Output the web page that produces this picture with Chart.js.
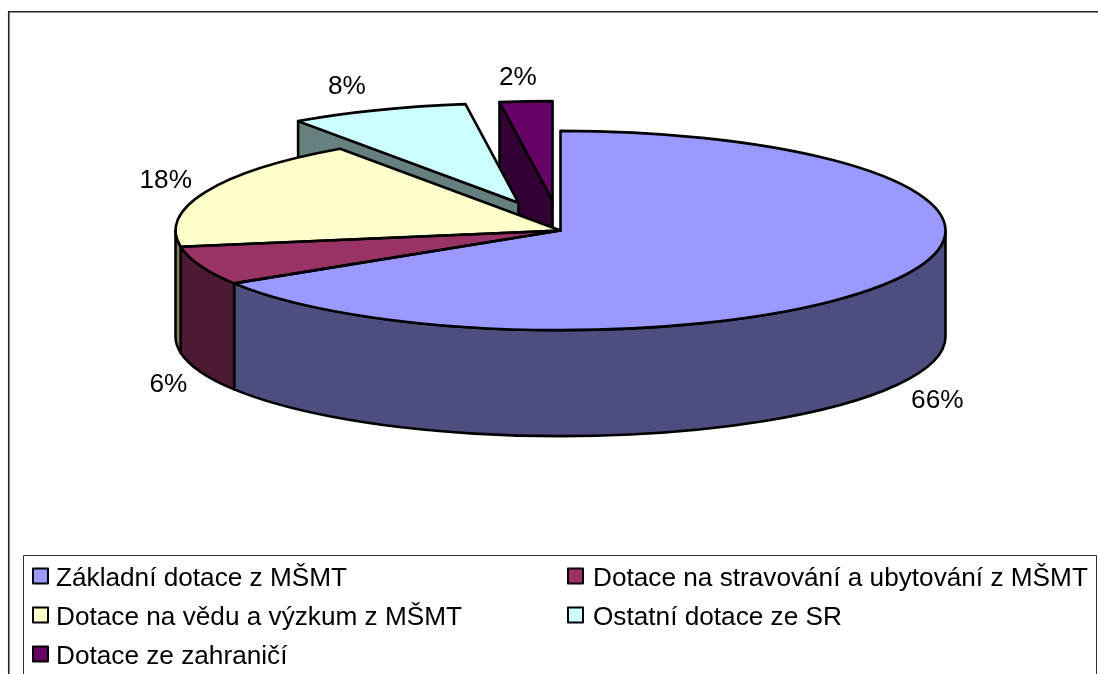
<!DOCTYPE html>
<html>
<head>
<meta charset="utf-8">
<style>html,body{margin:0;padding:0;background:#fff;overflow:hidden}canvas{display:block}</style>
<script src="https://cdn.jsdelivr.net/npm/chart.js@4"></script>
</head>
<body>
<canvas id="c" width="1098" height="674"></canvas>
<script>
const categories = ['Základní dotace z MŠMT','Dotace na stravování a ubytování z MŠMT','Dotace na vědu a výzkum z MŠMT','Ostatní dotace ze SR','Dotace ze zahraničí'];
const shares = [66.1, 6.3, 17.9, 7.5, 2.2];
const explode = [0, 0, 0, 115, 115];
const topColors = ['#9999FF','#993366','#FFFFCC','#CCFFFF','#660066'];
const wallColors = ['#4D4D80','#4D1A33','#808066','#668080','#330033'];
const labelNudge = [[40,16],[-32,13],[-40,-11],[-31,-23],[-8,-24]];

const TILT = 0.2588, DEPTH = 106, FONT = '26.2px "Liberation Sans", Arial, sans-serif', EDGE = 2.6;
const TAU = Math.PI * 2;

function sy(cy, y) { return cy + (y - cy) * TILT; }

function ellipsePath(ctx, a, cy, dy, from, to, ccw) {
  ctx.ellipse(a.x, sy(cy, a.y) + dy, a.outerRadius, a.outerRadius * TILT, 0, from, to, ccw);
}

function norm(t) { t = t % TAU; return t < 0 ? t + TAU : t; }

const pie3d = {
  id: 'pie3d',
  afterDatasetsUpdate(chart) {
    chart.getDatasetMeta(0).data.forEach((a, i) => {
      const mid = (a.startAngle + a.endAngle) / 2;
      a.x += Math.cos(mid) * explode[i];
      a.y += Math.sin(mid) * explode[i];
    });
  },
  beforeDraw(chart) {
    const ctx = chart.ctx, W = chart.width;
    ctx.save();
    ctx.fillStyle = '#fff';
    ctx.fillRect(0, 0, W, chart.height);
    ctx.strokeStyle = '#222';
    ctx.lineWidth = 1.6;
    ctx.beginPath();
    ctx.moveTo(W, 11.75); ctx.lineTo(8.75, 11.75); ctx.lineTo(8.75, chart.height);
    ctx.stroke();
    ctx.restore();
  },
  beforeDatasetsDraw(chart) {
    const ctx = chart.ctx, arcs = chart.getDatasetMeta(0).data;
    const cy = (chart.chartArea.top + chart.chartArea.bottom) / 2;
    ctx.save();
    ctx.lineWidth = EDGE;
    ctx.lineJoin = 'round';
    ctx.strokeStyle = '#000';
    // back radial walls of the pulled-out slices
    for (let i = arcs.length - 1; i >= 0; i--) {
      if (!explode[i]) continue;
      const a = arcs[i], ax = a.x, ay = sy(cy, a.y);
      const ex = ax + a.outerRadius * Math.cos(a.startAngle);
      const ey = ay + a.outerRadius * TILT * Math.sin(a.startAngle);
      ctx.fillStyle = wallColors[i];
      ctx.beginPath();
      ctx.moveTo(ex, ey); ctx.lineTo(ax, ay); ctx.lineTo(ax, ay + DEPTH); ctx.lineTo(ex, ey + DEPTH);
      ctx.closePath(); ctx.fill(); ctx.stroke();
    }
    // outer rim walls on the visible front half
    arcs.forEach((a, i) => {
      let s = norm(a.startAngle), e = s + (a.endAngle - a.startAngle);
      let from = s, to = e;
      if (from > Math.PI) { from -= TAU; to -= TAU; }
      from = Math.max(from, 0); to = Math.min(to, Math.PI);
      if (to <= from) return;
      ctx.fillStyle = wallColors[i];
      ctx.beginPath();
      ellipsePath(ctx, a, cy, 0, from, to, false);
      ellipsePath(ctx, a, cy, DEPTH, to, from, true);
      ctx.closePath(); ctx.fill(); ctx.stroke();
    });
    ctx.restore();
    // squash the library's arcs into the tilted plane
    ctx.save();
    ctx.translate(0, cy); ctx.scale(1, TILT); ctx.translate(0, -cy);
  },
  afterDatasetsDraw(chart) {
    const ctx = chart.ctx, arcs = chart.getDatasetMeta(0).data;
    const cy = (chart.chartArea.top + chart.chartArea.bottom) / 2;
    ctx.restore();
    ctx.save();
    ctx.lineWidth = EDGE;
    ctx.lineJoin = 'round';
    ctx.strokeStyle = '#000';
    arcs.forEach(a => {
      ctx.beginPath();
      ctx.moveTo(a.x, sy(cy, a.y));
      ellipsePath(ctx, a, cy, 0, a.startAngle, a.endAngle, false);
      ctx.closePath();
      ctx.stroke();
    });
    // percentage labels
    ctx.font = FONT;
    ctx.fillStyle = '#000';
    ctx.textAlign = 'center';
    ctx.textBaseline = 'middle';
    const total = shares.reduce((p, v) => p + v, 0);
    arcs.forEach((a, i) => {
      const mid = (a.startAngle + a.endAngle) / 2;
      const wall = Math.sin(mid) > 0 ? DEPTH : 0;
      const x = a.x + a.outerRadius * Math.cos(mid) + labelNudge[i][0];
      const y = sy(cy, a.y) + a.outerRadius * TILT * Math.sin(mid) + wall + labelNudge[i][1];
      ctx.fillText(Math.round(shares[i] / total * 100) + '%', x, y);
    });
    // legend
    const H = chart.height;
    ctx.strokeStyle = '#333';
    ctx.lineWidth = 1;
    ctx.beginPath();
    ctx.moveTo(23.5, H); ctx.lineTo(23.5, 555.5); ctx.lineTo(1096.5, 555.5); ctx.lineTo(1096.5, H);
    ctx.stroke();
    ctx.textAlign = 'left';
    ctx.textBaseline = 'alphabetic';
    categories.forEach((t, i) => {
      const col = i % 2, row = Math.floor(i / 2);
      const bx = col ? 568 : 33, by = 568.5 + row * 39;
      ctx.fillStyle = topColors[i];
      ctx.strokeStyle = '#000';
      ctx.lineWidth = 2;
      ctx.fillRect(bx, by, 15, 15);
      ctx.strokeRect(bx, by, 15, 15);
      ctx.fillStyle = '#000';
      ctx.fillText(t, bx + (col ? 25 : 23), by + 17);
    });
    ctx.restore();
  }
};

new Chart(document.getElementById('c'), {
  type: 'pie',
  data: {
    labels: categories,
    datasets: [{ data: shares, backgroundColor: topColors, borderWidth: 0, radius: 385, clip: false }]
  },
  options: {
    responsive: false,
    animation: false,
    events: [],
    layout: { padding: { left: 23, right: 0, top: 0, bottom: 213 } },
    plugins: { legend: { display: false }, tooltip: { enabled: false } }
  },
  plugins: [pie3d]
});
</script>
</body>
</html>
